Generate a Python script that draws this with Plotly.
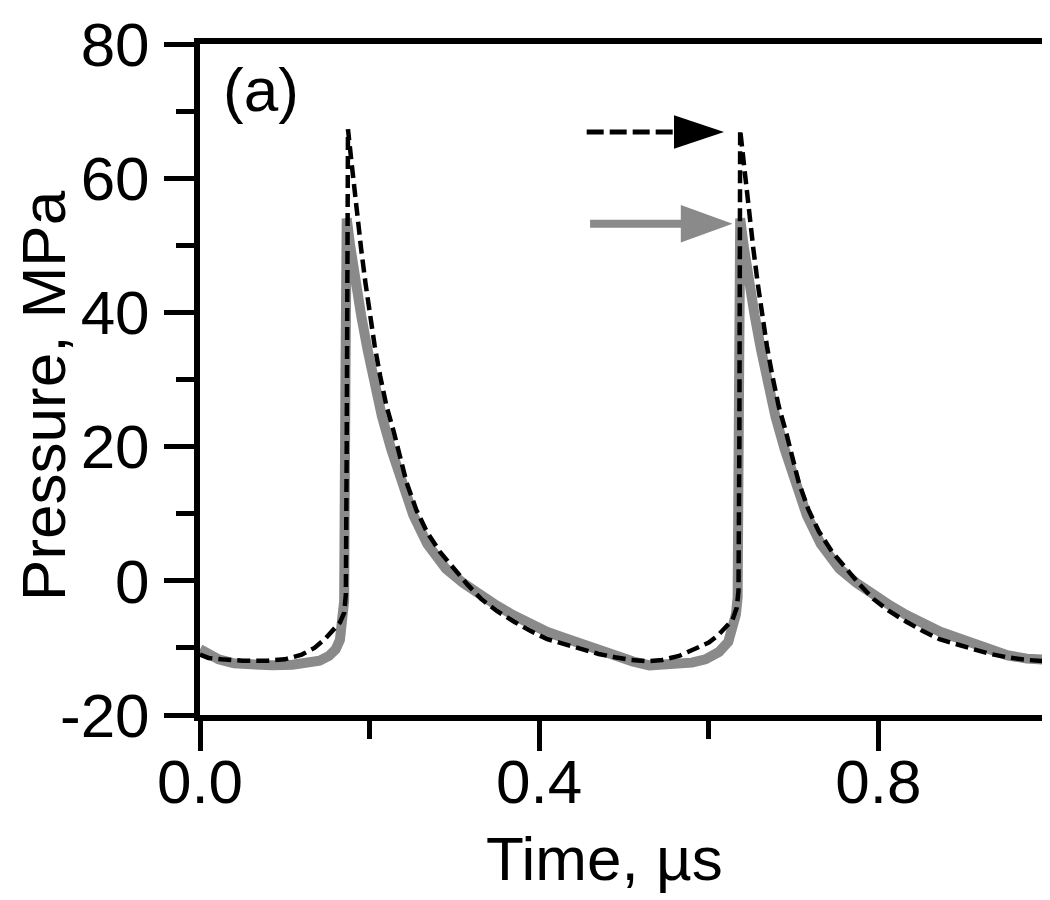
import plotly.graph_objects as go

# ---------------- data ----------------
black_x = [0.000, 0.010, 0.025, 0.050, 0.080, 0.100, 0.120, 0.135, 0.148, 0.158, 0.165, 0.170, 0.172, 0.173,
           0.1745, 0.179, 0.183, 0.1865, 0.190, 0.195, 0.2005, 0.206, 0.2125, 0.220, 0.2285, 0.236, 0.2435,
           0.255, 0.2675, 0.283, 0.2995, 0.315, 0.3315, 0.350, 0.3705, 0.390, 0.4095, 0.430, 0.4495, 0.470,
           0.4895, 0.5085, 0.5285, 0.545, 0.565, 0.584, 0.600, 0.611, 0.620, 0.628, 0.633, 0.635, 0.636,
           0.637, 0.6415, 0.6455, 0.649, 0.6525, 0.6575, 0.663, 0.6685, 0.675, 0.6825, 0.691, 0.6985, 0.706,
           0.7175, 0.730, 0.7455, 0.762, 0.7775, 0.794, 0.8125, 0.833, 0.8525, 0.872, 0.892, 0.912, 0.932,
           0.952, 0.976, 1.000]
black_y = [-11.0, -11.5, -11.7, -11.9, -11.9, -11.7, -11.0, -10.0, -8.6, -7.3, -6.2, -4.8, -2.0, 20.0,
           67.3, 62.0, 57.0, 53.0, 49.5, 44.5, 39.6, 35.0, 30.5, 26.0, 22.2, 18.2, 14.7,
           10.6, 7.3, 4.3, 1.8, -0.5, -2.7, -4.5, -6.1, -7.5, -8.7, -9.5, -10.2, -10.9,
           -11.4, -11.8, -12.0, -11.8, -11.2, -10.2, -9.2, -8.1, -7.0, -5.8, -4.0, -1.5, 20.0,
           67.2, 62.0, 57.0, 53.0, 49.5, 44.5, 39.6, 35.0, 30.5, 26.0, 22.2, 18.2, 14.7,
           10.6, 7.3, 4.3, 1.8, -0.5, -2.7, -4.5, -6.1, -7.5, -8.7, -9.5, -10.2, -10.9,
           -11.4, -11.8, -12.0]

gray_x = [0.000, 0.010, 0.022, 0.040, 0.062, 0.085, 0.109, 0.125, 0.141, 0.152, 0.160, 0.165, 0.168,
          0.170, 0.1715, 0.173, 0.177, 0.1825, 0.190, 0.1975, 0.205, 0.2145, 0.2255, 0.238, 0.2515,
          0.268, 0.279, 0.290, 0.310, 0.330, 0.350, 0.369, 0.390, 0.409, 0.429, 0.448, 0.468, 0.488,
          0.510, 0.530, 0.557, 0.580, 0.596, 0.612, 0.623, 0.629, 0.632, 0.634, 0.6355, 0.637, 0.641,
          0.6465, 0.654, 0.6615, 0.669, 0.6785, 0.6895, 0.702, 0.7155, 0.732, 0.743, 0.754, 0.774,
          0.794, 0.814, 0.833, 0.854, 0.873, 0.893, 0.912, 0.932, 0.952, 0.975, 1.000]
gray_y = [-10.2, -11.0, -11.7, -12.3, -12.5, -12.6, -12.5, -12.3, -11.9, -11.2, -10.2, -8.8, -6.5,
          -3.0, 30.0, 54.0, 50.0, 45.0, 39.6, 34.5, 30.0, 24.5, 19.6, 14.5, 9.8,
          5.5, 3.5, 1.8, -0.3, -2.1, -3.7, -5.1, -6.5, -7.6, -8.5, -9.4, -10.3, -11.2,
          -12.0, -12.6, -12.5, -12.2, -11.7, -10.6, -9.1, -7.0, -5.0, -2.5, 30.0, 54.0, 50.0,
          45.0, 39.6, 34.5, 30.0, 24.5, 19.6, 14.5, 9.8, 5.5, 3.5, 1.8, -0.3,
          -2.1, -3.7, -5.1, -6.5, -7.6, -8.5, -9.3, -10.3, -11.1, -11.6, -11.8]

# arrows (data coordinates): [black dashed, gray]
arrow_tail_x = [0.456, 0.460]
arrow_tip_x = [0.618, 0.628]
arrow_y = [66.9, 53.2]

x_major = [0.0, 0.4, 0.8]
x_major_text = ["0.0", "0.4", "0.8"]
x_minor = [0.2, 0.6, 1.0]
y_major = [-20, 0, 20, 40, 60, 80]
y_major_text = ["-20", "0", "20", "40", "60", "80"]
y_minor = [-10, 10, 30, 50, 70]

panel_label = "(a)"
x_title = "Time, µs"
y_title = "Pressure, MPa"

# ---------------- styles ----------------
FONT = "Liberation Sans, Arial, sans-serif"
FS = 62
GRAY = "#8a8a8a"

fig = go.Figure()
fig.add_trace(go.Scatter(x=gray_x, y=gray_y, mode="lines",
                         line=dict(color=GRAY, width=10), showlegend=False))
fig.add_trace(go.Scatter(x=black_x, y=black_y, mode="lines",
                         line=dict(color="black", width=4.5, dash="13px,6px"), showlegend=False))

# arrows
head_len = [0.059, 0.061]
head_half = [2.5, 2.8]
arrow_colors = ["black", GRAY]
arrow_widths = [5, 8]
arrow_dash = ["17px,6px", "solid"]
shapes = []
for i in range(2):
    base = arrow_tip_x[i] - head_len[i]
    shapes.append(dict(type="line", xref="x", yref="y",
                       x0=arrow_tail_x[i], x1=base + 0.004, y0=arrow_y[i], y1=arrow_y[i],
                       line=dict(color=arrow_colors[i], width=arrow_widths[i], dash=arrow_dash[i])))
    path = (f"M{base},{arrow_y[i] - head_half[i]} L{arrow_tip_x[i]},{arrow_y[i]} "
            f"L{base},{arrow_y[i] + head_half[i]} Z")
    shapes.append(dict(type="path", xref="x", yref="y", path=path,
                       fillcolor=arrow_colors[i], line=dict(width=0)))

fig.update_layout(
    width=1050, height=900,
    margin=dict(l=192, r=10, t=36, b=193),
    paper_bgcolor="white", plot_bgcolor="white",
    font=dict(family=FONT, size=FS, color="black"),
    shapes=shapes,
    showlegend=False,
)

axis_common = dict(showgrid=False, zeroline=False, showline=True, linecolor="black",
                   linewidth=6, mirror=True, ticks="outside", ticklen=30, tickwidth=5,
                   tickcolor="black", tickfont=dict(family=FONT, size=FS, color="black"),
                   automargin=False)

fig.update_xaxes(range=[0, 1.0], tickmode="array", tickvals=x_major, ticktext=x_major_text,
                 ticklabelstandoff=-22,
                 minor=dict(tickmode="array", tickvals=x_minor, ticks="outside", ticklen=18,
                            tickwidth=5, tickcolor="black"),
                 **axis_common)
fig.update_yaxes(range=[-20, 80], tickmode="array", tickvals=y_major, ticktext=y_major_text,
                 ticklabelstandoff=2,
                 minor=dict(tickmode="array", tickvals=y_minor, ticks="outside", ticklen=18,
                            tickwidth=5, tickcolor="black"),
                 **axis_common)

fig.add_annotation(x=0.025, y=73.2, xref="x", yref="y", text=panel_label, showarrow=False,
                   xanchor="left", yanchor="middle", font=dict(family=FONT, size=FS, color="black"))
fig.add_annotation(x=0.477, y=-0.1595, xref="paper", yref="paper", text=x_title, showarrow=False,
                   xanchor="center", yanchor="top", font=dict(family=FONT, size=FS, color="black"))
fig.add_annotation(x=-0.184, y=0.477, xref="paper", yref="paper", text=y_title, showarrow=False,
                   textangle=-90, xanchor="center", yanchor="middle",
                   font=dict(family=FONT, size=FS, color="black"))

fig.write_html("out.html")
